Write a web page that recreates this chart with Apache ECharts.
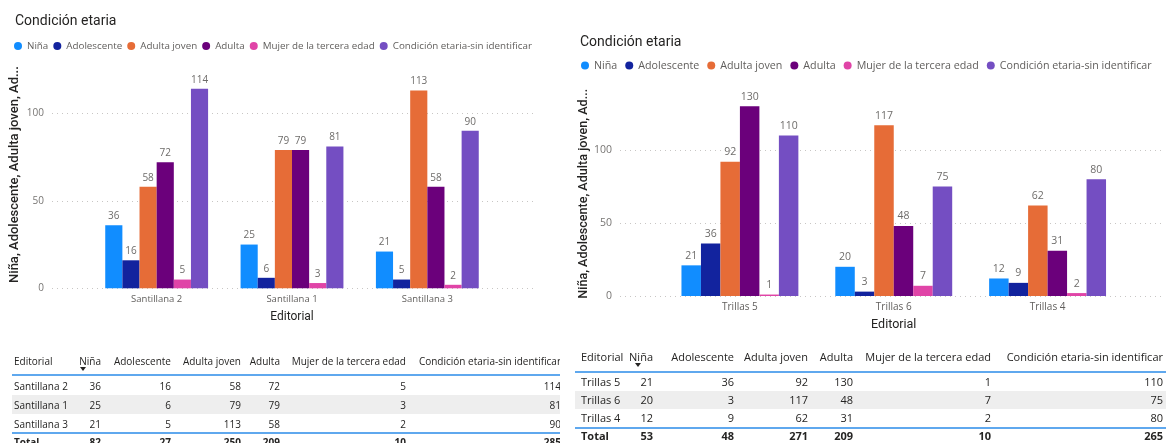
<!DOCTYPE html>
<html>
<head>
<meta charset="utf-8">
<script src="https://cdn.jsdelivr.net/npm/echarts@6/dist/echarts.min.js"></script>
<style>
html,body{margin:0;padding:0;width:1166px;height:443px;overflow:hidden;background:#fff;font-family:'Open Sans',sans-serif;}
#c1,#c2{position:absolute;left:0;top:0;width:1166px;height:443px;}
.tbl{position:absolute;overflow:hidden;color:#252423;}
.tbl span{position:absolute;white-space:nowrap;}
.tbl .r{text-align:right;}
.tbl .line{position:absolute;height:2px;background:#5FA8EE;}
.tbl .shade{position:absolute;background:#EEEEEE;}
.tbl .arrow{position:absolute;width:0;height:0;border-left:3px solid transparent;border-right:3px solid transparent;border-top:4px solid #252423;}
</style>
</head>
<body>
<div id="c1"></div>
<div id="c2"></div>
<div id="t1" class="tbl"></div>
<div id="t2" class="tbl"></div>
<script>
// ---------- data ----------
const seriesNames = ['Niña', 'Adolescente', 'Adulta joven', 'Adulta', 'Mujer de la tercera edad', 'Condición etaria-sin identificar'];
const seriesColors = ['#118DFF', '#12239E', '#E66C37', '#6B007B', '#E044A7', '#744EC2'];
const chartTitle = 'Condición etaria';
const xAxisTitle = 'Editorial';
const yAxisTitle = 'Niña, Adolescente, Adulta joven, Ad...';
const yTicks = [0, 50, 100];

const categoriesLeft = ['Santillana 2', 'Santillana 1', 'Santillana 3'];
const ninaLeft = [36, 25, 21];
const adolescenteLeft = [16, 6, 5];
const adultaJovenLeft = [58, 79, 113];
const adultaLeft = [72, 79, 58];
const mujerTerceraLeft = [5, 3, 2];
const sinIdentificarLeft = [114, 81, 90];
const totalsLeft = [82, 27, 250, 209, 10, 285];

const categoriesRight = ['Trillas 5', 'Trillas 6', 'Trillas 4'];
const ninaRight = [21, 20, 12];
const adolescenteRight = [36, 3, 9];
const adultaJovenRight = [92, 117, 62];
const adultaRight = [130, 48, 31];
const mujerTerceraRight = [1, 7, 2];
const sinIdentificarRight = [110, 75, 80];
const totalsRight = [53, 48, 271, 209, 10, 265];

const tableHeader = ['Editorial'].concat(seriesNames);
const totalLabel = 'Total';

// ---------- charts ----------
function buildOption(cats, values, L) {
  const series = values.map((vals, i) => ({
    name: seriesNames[i],
    type: 'bar',
    xAxisIndex: 1,
    yAxisIndex: 1,
    data: vals,
    barGap: '0%',
    barCategoryGap: '24%',
    itemStyle: { color: seriesColors[i] },
    label: {
      show: true, position: 'top', distance: 4,
      color: '#6E6C6A', fontFamily: 'Open Sans', fontSize: L.labelSize
    }
  }));
  return {
    animation: false,
    title: {
      text: chartTitle, left: L.titleX, top: L.titleY,
      textStyle: { fontFamily: 'Roboto', fontSize: L.titleSize, fontWeight: 'normal', color: '#252423' }
    },
    legend: {
      data: seriesNames, left: L.legendX, top: L.legendY, width: 620,
      icon: 'circle', itemWidth: L.dot, itemHeight: L.dot, itemGap: L.legendGap,
      textStyle: { fontFamily: 'Open Sans', fontSize: L.legendSize, color: '#605E5C' }
    },
    grid: [
      { left: L.bgLeft, top: L.bgTop, width: L.bgWidth, height: L.bgHeight },
      { left: L.barLeft, top: L.barTop, width: L.barWidth, height: L.barHeight }
    ],
    xAxis: [
      { gridIndex: 0, type: 'value', min: 0, max: 1, show: false },
      {
        gridIndex: 1, type: 'category', data: cats,
        axisLine: { show: false }, axisTick: { show: false },
        axisLabel: { color: '#605E5C', fontFamily: 'Open Sans', fontSize: L.catSize, margin: L.catMargin },
        name: xAxisTitle, nameLocation: 'middle', nameGap: L.xNameGap,
        nameTextStyle: { fontFamily: 'Roboto', fontSize: L.nameSize, color: '#252423' }
      }
    ],
    yAxis: [
      {
        gridIndex: 0, type: 'value', min: yTicks[0], max: yTicks[yTicks.length - 1], interval: yTicks[1] - yTicks[0],
        axisLine: { show: false }, axisTick: { show: false },
        axisLabel: { color: '#777573', fontFamily: 'Open Sans', fontSize: L.tickSize, margin: L.tickMargin },
        splitLine: { lineStyle: { color: '#C8C6C4', width: 1, type: [1, 4] } }
      },
      {
        gridIndex: 1, type: 'value', min: 0, max: L.barMax,
        axisLine: { show: false }, axisTick: { show: false }, axisLabel: { show: false },
        splitLine: { show: false },
        name: yAxisTitle, nameLocation: 'middle', nameGap: L.yNameGap,
        nameTextStyle: { fontFamily: 'Roboto', fontSize: L.yNameSize, fontWeight: 500, color: '#252423' }
      }
    ],
    series: series
  };
}

const leftLayout = {
  titleX: 10, titleY: 9, titleSize: 14,
  legendX: 9, legendY: 36, dot: 8, legendGap: 5, legendSize: 9.8,
  bgLeft: 52, bgTop: 113.3, bgWidth: 485, bgHeight: 175,
  barLeft: 89, barTop: 60.8, barWidth: 406, barHeight: 227.5, barMax: 130,
  labelSize: 10, catSize: 9.5, catMargin: 6, tickSize: 10, tickMargin: 8,
  nameSize: 12, yNameSize: 13, xNameGap: 23, yNameGap: 68
};
const rightLayout = {
  titleX: 575, titleY: 30, titleSize: 14,
  legendX: 576, legendY: 55, dot: 8, legendGap: 8, legendSize: 10.7,
  bgLeft: 620, bgTop: 150, bgWidth: 542, bgHeight: 146,
  barLeft: 663, barTop: 91.6, barWidth: 461.5, barHeight: 204.4, barMax: 140,
  labelSize: 10.5, catSize: 10, catMargin: 6, tickSize: 10.5, tickMargin: 8,
  nameSize: 12.5, yNameSize: 12.6, xNameGap: 22, yNameGap: 73
};

const chartL = echarts.init(document.getElementById('c1'), null, { renderer: 'canvas' });
chartL.setOption(buildOption(categoriesLeft,
  [ninaLeft, adolescenteLeft, adultaJovenLeft, adultaLeft, mujerTerceraLeft, sinIdentificarLeft], leftLayout));
const chartR = echarts.init(document.getElementById('c2'), null, { renderer: 'canvas' });
chartR.setOption(buildOption(categoriesRight,
  [ninaRight, adolescenteRight, adultaJovenRight, adultaRight, mujerTerceraRight, sinIdentificarRight], rightLayout));

// ---------- tables ----------
function buildTable(el, cats, values, totals, T) {
  el.style.left = T.x + 'px';
  el.style.top = T.y + 'px';
  el.style.width = T.w + 'px';
  el.style.height = T.h + 'px';
  el.style.fontSize = T.font + 'px';
  const lh = 16;
  let html = '';
  html += '<div class="shade" style="left:0;width:' + T.w + 'px;top:' + (T.shadeTop - T.y) + 'px;height:' + T.shadeH + 'px"></div>';
  html += '<div class="line" style="left:0;width:' + T.w + 'px;top:' + (T.line1 - T.y) + 'px"></div>';
  html += '<div class="line" style="left:0;width:' + T.w + 'px;top:' + (T.line2 - T.y) + 'px"></div>';
  function cell(text, col, cy, bold) {
    const top = cy - T.y - lh / 2;
    const st = 'top:' + top + 'px;line-height:' + lh + 'px;' + (bold ? 'font-weight:bold;' : '');
    if (col === 0) {
      return '<span style="left:' + (T.textLeft - T.x) + 'px;' + st + '">' + text + '</span>';
    }
    const r = T.rights[col - 1] - T.x;
    return '<span class="r" style="left:' + (r - 300) + 'px;width:300px;' + st + '">' + text + '</span>';
  }
  tableHeader.forEach((h, c) => { html += cell(h, c, T.headY, false); });
  html += '<div class="arrow" style="left:' + (T.arrowX - 3 - T.x) + 'px;top:' + (T.arrowY - 2 - T.y) + 'px"></div>';
  cats.forEach((cat, r) => {
    html += cell(cat, 0, T.rowYs[r], false);
    values.forEach((vals, c) => { html += cell(vals[r], c + 1, T.rowYs[r], false); });
  });
  html += cell(totalLabel, 0, T.totalY, true);
  totals.forEach((v, c) => { html += cell(v, c + 1, T.totalY, true); });
  el.innerHTML = html;
}

buildTable(document.getElementById('t1'), categoriesLeft,
  [ninaLeft, adolescenteLeft, adultaJovenLeft, adultaLeft, mujerTerceraLeft, sinIdentificarLeft], totalsLeft, {
  x: 12, y: 345, w: 548, h: 98, font: 10, textLeft: 14,
  rights: [101, 171, 241, 280, 406, 561],
  headY: 360.5, rowYs: [385.5, 404.5, 423.5], totalY: 442,
  line1: 374, line2: 431.5, shadeTop: 395, shadeH: 19, arrowX: 83, arrowY: 369
});
buildTable(document.getElementById('t2'), categoriesRight,
  [ninaRight, adolescenteRight, adultaJovenRight, adultaRight, mujerTerceraRight, sinIdentificarRight], totalsRight, {
  x: 575, y: 340, w: 591, h: 103, font: 11, textLeft: 581,
  rights: [653, 734, 808, 853, 991, 1163],
  headY: 356.7, rowYs: [382.3, 400, 417.5], totalY: 436,
  line1: 371, line2: 426.5, shadeTop: 391, shadeH: 18, arrowX: 637.5, arrowY: 365
});
</script>
</body>
</html>
